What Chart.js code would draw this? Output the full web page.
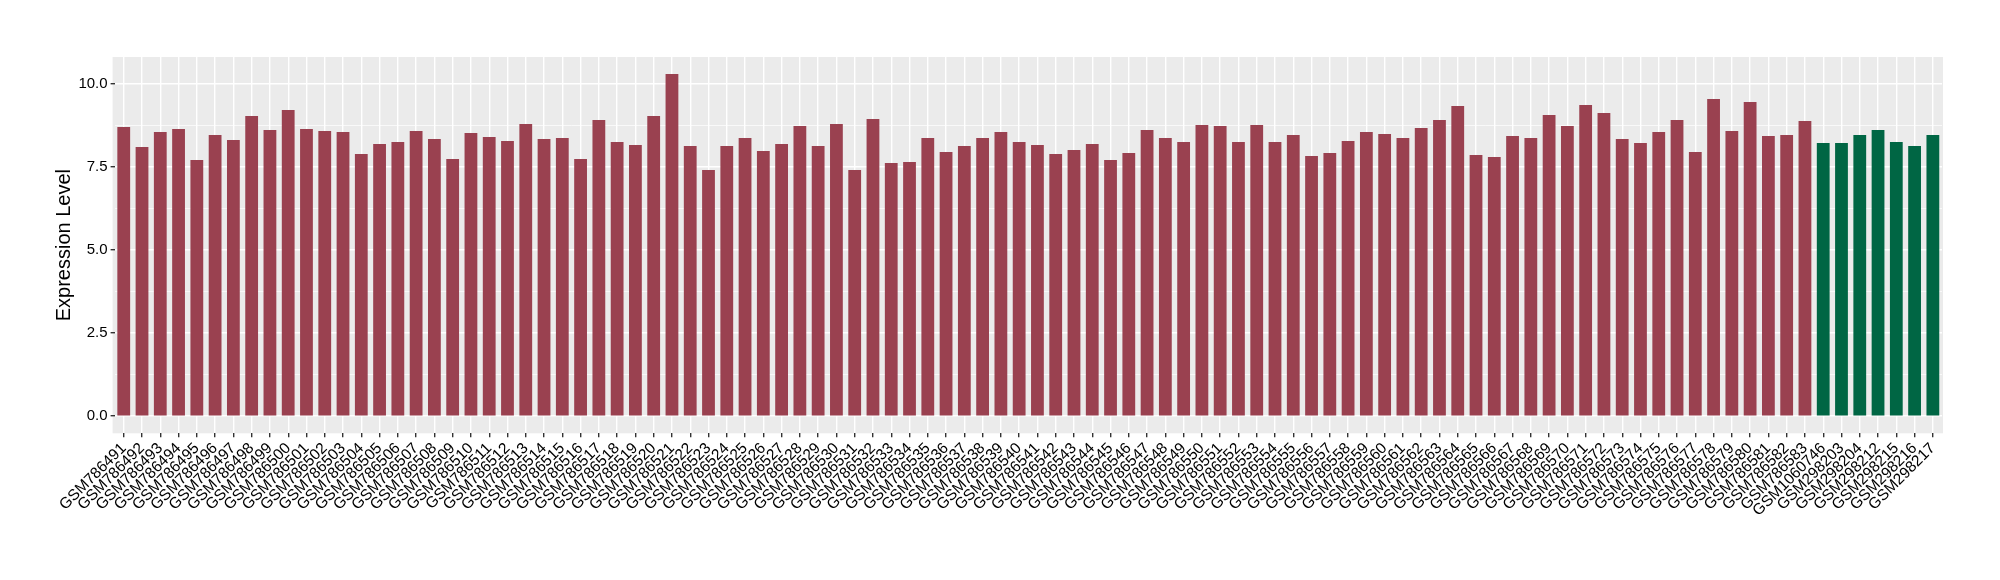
<!DOCTYPE html>
<html>
<head>
<meta charset="utf-8">
<script src="https://cdn.jsdelivr.net/npm/chart.js@4/dist/chart.umd.min.js"></script>
<style>
  body { margin: 0; background: #fff; }
  #wrap { width: 2000px; height: 580px; }
</style>
</head>
<body>
<div id="wrap"><canvas id="exprChart" width="2000" height="580"></canvas></div>
<script>
// first group of samples (red bars)
const samplesA = [
  'GSM786491','GSM786492','GSM786493','GSM786494','GSM786495','GSM786496','GSM786497','GSM786498','GSM786499','GSM786500',
  'GSM786501','GSM786502','GSM786503','GSM786504','GSM786505','GSM786506','GSM786507','GSM786508','GSM786509','GSM786510',
  'GSM786511','GSM786512','GSM786513','GSM786514','GSM786515','GSM786516','GSM786517','GSM786518','GSM786519','GSM786520',
  'GSM786521','GSM786522','GSM786523','GSM786524','GSM786525','GSM786526','GSM786527','GSM786528','GSM786529','GSM786530',
  'GSM786531','GSM786532','GSM786533','GSM786534','GSM786535','GSM786536','GSM786537','GSM786538','GSM786539','GSM786540',
  'GSM786541','GSM786542','GSM786543','GSM786544','GSM786545','GSM786546','GSM786547','GSM786548','GSM786549','GSM786550',
  'GSM786551','GSM786552','GSM786553','GSM786554','GSM786555','GSM786556','GSM786557','GSM786558','GSM786559','GSM786560',
  'GSM786561','GSM786562','GSM786563','GSM786564','GSM786565','GSM786566','GSM786567','GSM786568','GSM786569','GSM786570',
  'GSM786571','GSM786572','GSM786573','GSM786574','GSM786575','GSM786576','GSM786577','GSM786578','GSM786579','GSM786580',
  'GSM786581','GSM786582','GSM786583'
];
const valuesA = [
  8.69, 8.09, 8.54, 8.63, 7.70, 8.45, 8.30, 9.02, 8.60, 9.20,
  8.63, 8.57, 8.54, 7.88, 8.18, 8.24, 8.57, 8.33, 7.73, 8.51,
  8.39, 8.27, 8.78, 8.33, 8.36, 7.73, 8.90, 8.24, 8.15, 9.02,
  10.28, 8.12, 7.40, 8.12, 8.36, 7.97, 8.18, 8.72, 8.12, 8.78,
  7.40, 8.93, 7.61, 7.64, 8.36, 7.94, 8.12, 8.36, 8.54, 8.24,
  8.15, 7.88, 8.00, 8.18, 7.70, 7.91, 8.60, 8.36, 8.24, 8.75,
  8.72, 8.24, 8.75, 8.24, 8.45, 7.82, 7.91, 8.27, 8.54, 8.48,
  8.36, 8.66, 8.90, 9.32, 7.85, 7.79, 8.42, 8.36, 9.05, 8.72,
  9.35, 9.11, 8.33, 8.21, 8.54, 8.90, 7.94, 9.53, 8.57, 9.44,
  8.42, 8.45, 8.87
];

// second group (green bars)
const samplesB = ['GSM1060746','GSM298203','GSM298204','GSM298212','GSM298215','GSM298216','GSM298217'];
const valuesB = [8.21, 8.21, 8.45, 8.60, 8.24, 8.12, 8.45];

const colorA = '#9a4150';
const colorB = '#006644';
const yTicks = [0, 1.25, 2.5, 3.75, 5, 6.25, 7.5, 8.75, 10];

const labels = samplesA.concat(samplesB);
const values = valuesA.concat(valuesB);
const barColors = labels.map((l, i) => i < samplesA.length ? colorA : colorB);

const isMajor = (v) => Math.abs(v / 2.5 - Math.round(v / 2.5)) < 1e-6;

// grey panel behind the plot, like ggplot's theme_gray
const panelBg = {
  id: 'panelBg',
  beforeDraw(chart) {
    const { ctx, chartArea: a } = chart;
    ctx.save();
    ctx.fillStyle = '#ebebeb';
    ctx.fillRect(a.left - 2, a.top, a.right - a.left + 3, a.bottom - a.top);
    ctx.restore();
  }
};

const FONT = "'Liberation Sans', Arial, sans-serif";

new Chart(document.getElementById('exprChart'), {
  type: 'bar',
  data: {
    labels: labels,
    datasets: [{
      data: values,
      backgroundColor: barColors,
      borderWidth: 0,
      barPercentage: 0.7,
      categoryPercentage: 1.0
    }]
  },
  options: {
    responsive: false,
    animation: false,
    layout: { padding: { left: 52, right: 58, top: 57, bottom: 0 } },
    plugins: { legend: { display: false }, tooltip: { enabled: false } },
    scales: {
      x: {
        offset: true,
        border: { display: false },
        grid: {
          offset: false,
          color: '#ffffff',
          lineWidth: 1.4,
          tickColor: '#333333',
          tickLength: 4
        },
        ticks: {
          autoSkip: false,
          minRotation: 45,
          maxRotation: 45,
          padding: 2,
          color: '#000000',
          font: { family: FONT, size: 15.5 }
        },
        afterFit(scale) { scale.height = 146.7; }
      },
      y: {
        min: -0.514,
        max: 10.794,
        border: { display: false },
        afterBuildTicks(scale) { scale.ticks = yTicks.map(v => ({ value: v })); },
        grid: {
          color: '#ffffff',
          lineWidth: (c) => isMajor(c.tick.value) ? 1.4 : 0.7,
          tickColor: (c) => isMajor(c.tick.value) ? '#333333' : 'rgba(0,0,0,0)',
          tickLength: 4
        },
        ticks: {
          padding: 3,
          color: '#000000',
          font: { family: FONT, size: 15 },
          callback: (v) => isMajor(v) ? v.toFixed(1) : ''
        },
        title: {
          display: true,
          text: 'Expression Level',
          color: '#000000',
          padding: 0,
          font: { family: FONT, size: 20 }
        },
        afterFit(scale) { scale.width = 62.6; }
      }
    }
  },
  plugins: [panelBg]
});
</script>
</body>
</html>
